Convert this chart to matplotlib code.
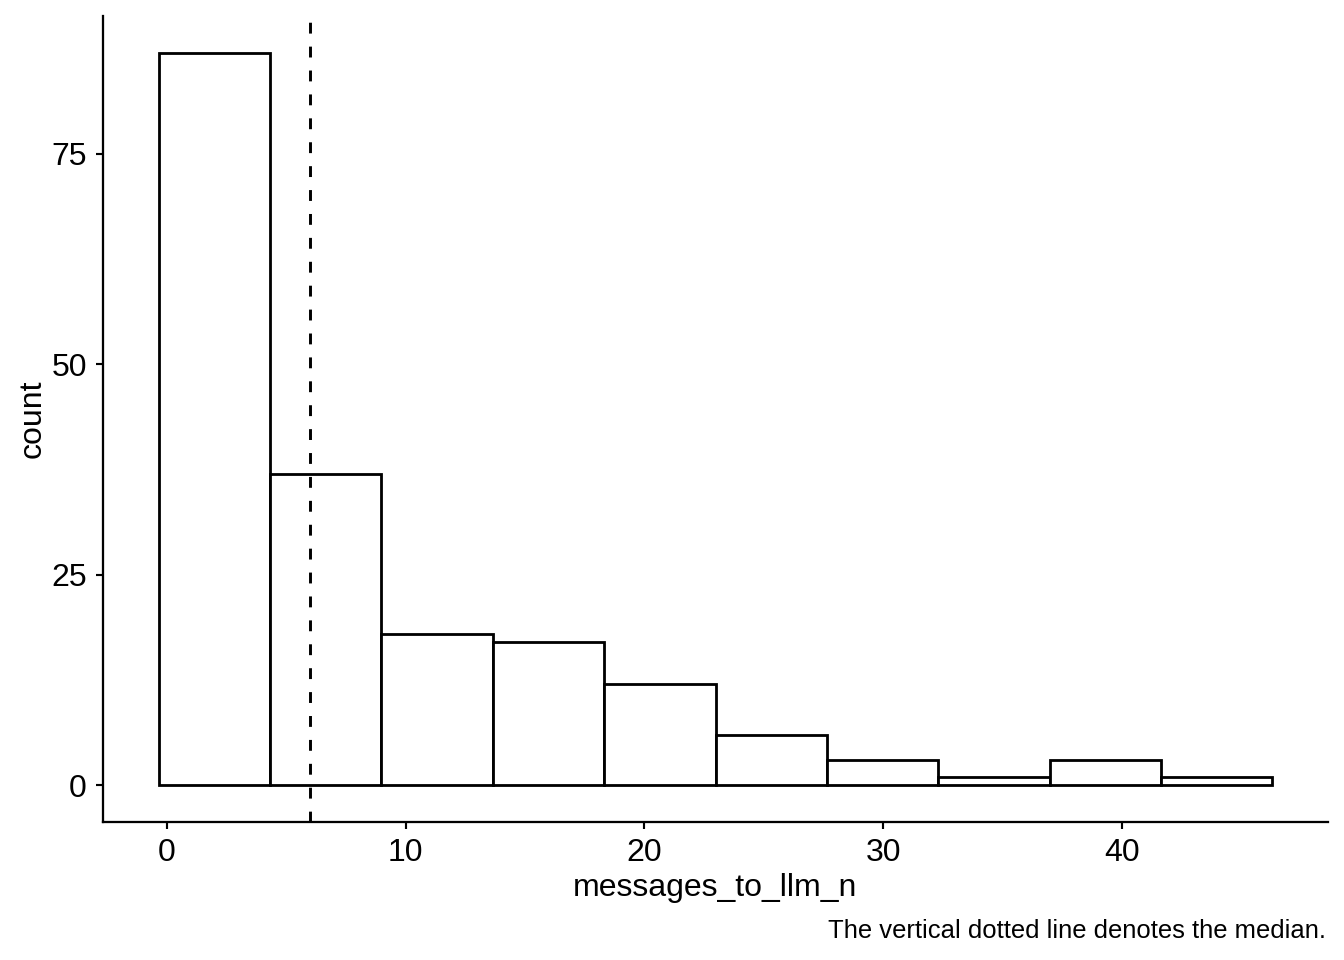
import numpy as np
import matplotlib.pyplot as plt

# гистограмма: границы корзин и количества
bin_edges = [-0.35, 4.315, 8.98, 13.645, 18.31, 22.975, 27.64, 32.305, 36.97, 41.635, 46.3]
counts = [87, 37, 18, 17, 12, 6, 3, 1, 3, 1]
median_value = 6
x_ticks = [0, 10, 20, 30, 40]
y_ticks = [0, 25, 50, 75]

plt.rcParams['font.family'] = ['Liberation Sans', 'DejaVu Sans']

fig = plt.figure(figsize=(7, 5), dpi=192)
ax = fig.add_axes([103 / 1344, 1 - 822 / 960, (1328 - 103) / 1344, (822 - 16) / 960])

edges = np.array(bin_edges)
ax.bar(edges[:-1], counts, width=np.diff(edges), align='edge',
       facecolor='white', edgecolor='black', linewidth=1.05, zorder=2)

ax.axvline(median_value, color='black', linewidth=1.1, linestyle=(0, (3.7, 4.45)), zorder=3)

# расширение осей как в ggplot (5%)
span = edges[-1] - edges[0]
ax.set_xlim(edges[0] - 0.05 * span, edges[-1] + 0.05 * span)
ymax = max(counts)
ax.set_ylim(-0.05 * ymax, ymax * 1.05)

ax.set_xticks(x_ticks)
ax.set_yticks(y_ticks)
ax.tick_params(axis='both', length=2.6, width=0.8, pad=3.4, labelsize=12, colors='black')

for side in ['top', 'right']:
    ax.spines[side].set_visible(False)
for side in ['left', 'bottom']:
    ax.spines[side].set_linewidth(0.85)

ax.set_xlabel('messages_to_llm_n', fontsize=12, labelpad=2)
ax.set_ylabel('count', fontsize=12, labelpad=1.5)

fig.text(1326 / 1344, 1 - 931 / 960, 'The vertical dotted line denotes the median.',
         ha='right', va='center', fontsize=9.6)

fig.savefig('out.png', dpi=192)
